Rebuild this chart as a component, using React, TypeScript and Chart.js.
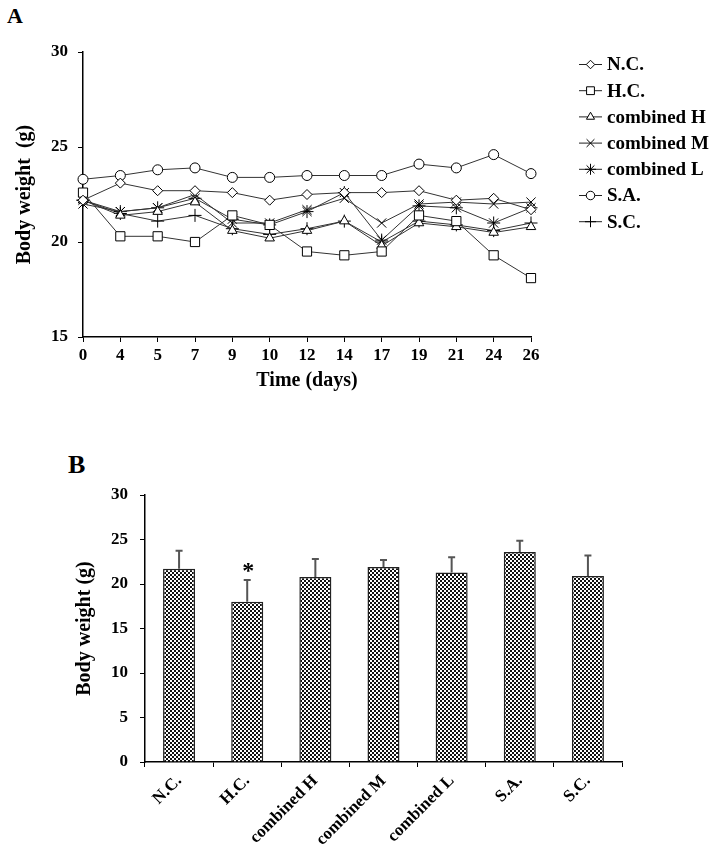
import React, { useEffect, useRef } from "react";
import { Chart, registerables } from "chart.js";
import { drawPoint } from "chart.js/helpers";

Chart.register(...registerables);

// ---------- DATA ----------
const days = ["0", "4", "5", "7", "9", "10", "12", "14", "17", "19", "21", "24", "26"];
const groupNames = ["N.C.", "H.C.", "combined H", "combined M", "combined L", "S.A.", "S.C."];

const ncWeights = [22.2, 23.1, 22.7, 22.7, 22.6, 22.2, 22.5, 22.6, 22.6, 22.7, 22.2, 22.3, 21.7];
const hcWeights = [22.6, 20.3, 20.3, 20.0, 21.4, 20.9, 19.5, 19.3, 19.5, 21.4, 21.1, 19.3, 18.1];
const combHWeights = [22.2, 21.4, 21.6, 22.1, 20.6, 20.2, 20.6, 21.1, 19.8, 21.0, 20.8, 20.5, 20.8];
const combMWeights = [22.0, 21.6, 21.8, 22.5, 21.0, 21.0, 21.7, 22.3, 21.0, 22.0, 22.1, 22.0, 22.1];
const combLWeights = [22.2, 21.6, 21.8, 22.3, 21.2, 20.9, 21.6, 22.6, 20.1, 21.9, 21.8, 21.0, 21.8];
const saWeights = [23.3, 23.5, 23.8, 23.9, 23.4, 23.4, 23.5, 23.5, 23.5, 24.1, 23.9, 24.6, 23.6];
const scWeights = [22.2, 21.5, 21.1, 21.4, 20.7, 20.4, 20.7, 21.1, 20.0, 21.1, 20.9, 20.6, 21.0];

const finalMeans = [21.7, 18.0, 20.8, 21.9, 21.3, 23.6, 20.9];
const finalSD = [2.05, 2.45, 2.0, 0.8, 1.7, 1.25, 2.3];
const significance = ["", "*", "", "", "", "", ""];

const yTicksA = [15, 20, 25, 30];
const yTicksB = [0, 5, 10, 15, 20, 25, 30];

// ---------- STYLE ----------
const FONT = "'Liberation Serif', 'Times New Roman', serif";
const markers = [
  { style: "rectRot", r: 5 },
  { style: "rect", r: 6.5 },
  { style: "triangle", r: 5.5 },
  { style: "crossRot", r: 6.5 },
  { style: "star", r: 6.5 },
  { style: "circle", r: 5 },
  { style: "cross", r: 6.5 },
];

const sideLegend = {
  id: "sideLegend",
  afterDraw(chart: any) {
    const ctx = chart.ctx;
    chart.data.datasets.forEach((ds: any, i: number) => {
      const y = 64.5 + i * 26.2;
      ctx.save();
      ctx.strokeStyle = "#222";
      ctx.lineWidth = 1;
      ctx.beginPath();
      ctx.moveTo(579, y);
      ctx.lineTo(602, y);
      ctx.stroke();
      ctx.fillStyle = "#fff";
      ctx.strokeStyle = "#000";
      drawPoint(ctx, { pointStyle: ds.pointStyle, radius: ds.pointRadius * 0.85, rotation: 0, borderWidth: 1 } as any, 590.5, y);
      ctx.fillStyle = "#000";
      ctx.font = `bold 19px ${FONT}`;
      ctx.textBaseline = "middle";
      ctx.textAlign = "left";
      ctx.fillText(ds.label, 607, y + 1);
      ctx.restore();
    });
  },
};

const errorBars = {
  id: "errorBars",
  afterDatasetsDraw(chart: any) {
    const ctx = chart.ctx;
    const meta = chart.getDatasetMeta(0);
    const yScale = chart.scales.y;
    meta.data.forEach((bar: any, i: number) => {
      const top = yScale.getPixelForValue(finalMeans[i] + finalSD[i]);
      ctx.save();
      ctx.strokeStyle = "#555";
      ctx.lineWidth = 2;
      ctx.beginPath();
      ctx.moveTo(bar.x, bar.y);
      ctx.lineTo(bar.x, top);
      ctx.moveTo(bar.x - 3.5, top);
      ctx.lineTo(bar.x + 3.5, top);
      ctx.stroke();
      if (significance[i]) {
        ctx.fillStyle = "#000";
        ctx.font = `bold 24px ${FONT}`;
        ctx.textAlign = "center";
        ctx.textBaseline = "alphabetic";
        ctx.fillText(significance[i], bar.x + 1, top - 2);
      }
      ctx.restore();
    });
  },
};

function checker(): CanvasPattern | string {
  const c = document.createElement("canvas");
  c.width = 4;
  c.height = 4;
  const g = c.getContext("2d");
  if (!g) return "#888";
  g.fillStyle = "#fff";
  g.fillRect(0, 0, 4, 4);
  g.fillStyle = "#111";
  g.fillRect(0, 0, 2, 2);
  g.fillRect(2, 2, 2, 2);
  return g.createPattern(c, "repeat") || "#888";
}

const axisCommon = {
  border: { color: "#000", width: 1.5 },
  grid: { display: true, drawOnChartArea: false, drawTicks: true, tickLength: 5, color: "#000", lineWidth: 1 },
};

export default function App() {
  const refA = useRef<HTMLCanvasElement>(null);
  const refB = useRef<HTMLCanvasElement>(null);

  useEffect(() => {
    Chart.defaults.font.family = FONT;
    Chart.defaults.font.weight = "bold" as any;
    Chart.defaults.color = "#000";

    const series = [ncWeights, hcWeights, combHWeights, combMWeights, combLWeights, saWeights, scWeights];
    const chartA = new Chart(refA.current as HTMLCanvasElement, {
      type: "line",
      data: {
        labels: days,
        datasets: series.map((d, i) => ({
          label: groupNames[i],
          data: d,
          borderColor: "#333",
          borderWidth: 1,
          pointStyle: markers[i].style as any,
          pointRadius: markers[i].r,
          pointBorderColor: "#000",
          pointBackgroundColor: "#fff",
          pointBorderWidth: 1,
          tension: 0,
        })),
      },
      options: {
        animation: false,
        responsive: false,
        layout: { padding: { left: 0, top: 52, right: 181, bottom: 0 } },
        plugins: { legend: { display: false }, tooltip: { enabled: false } },
        scales: {
          x: {
            ...axisCommon,
            offset: false,
            ticks: { font: { size: 17, weight: "bold" as any }, padding: 3, maxRotation: 0, autoSkip: false },
            title: { display: true, text: "Time (days)", font: { size: 20, weight: "bold" as any }, padding: { top: 0, bottom: 7 } },
            afterFit: (s: any) => { s.height = 63; },
          },
          y: {
            ...axisCommon,
            min: yTicksA[0],
            max: yTicksA[yTicksA.length - 1],
            afterBuildTicks: (s: any) => { s.ticks = yTicksA.map((v) => ({ value: v })); },
            ticks: { font: { size: 17, weight: "bold" as any }, padding: 10 },
            title: { display: true, text: "Body weight  (g)", font: { size: 20, weight: "bold" as any }, padding: { top: 13, bottom: 0 } },
            afterFit: (s: any) => { s.width = 83; },
          },
        },
      },
      plugins: [sideLegend],
    });

    const chartB = new Chart(refB.current as HTMLCanvasElement, {
      type: "bar",
      data: {
        labels: groupNames,
        datasets: [
          {
            label: "Body weight",
            data: finalMeans,
            backgroundColor: checker() as any,
            borderColor: "#222",
            borderWidth: 1.5,
            categoryPercentage: 1,
            barPercentage: 0.47,
          },
        ],
      },
      options: {
        animation: false,
        responsive: false,
        layout: { padding: { left: 0, top: 95, right: 90, bottom: 0 } },
        plugins: { legend: { display: false }, tooltip: { enabled: false } },
        scales: {
          x: {
            ...axisCommon,
            ticks: { font: { size: 17, weight: "bold" as any }, padding: 4, minRotation: 45, maxRotation: 45, autoSkip: false },
            afterFit: (s: any) => { s.height = 92; },
          },
          y: {
            ...axisCommon,
            min: yTicksB[0],
            max: yTicksB[yTicksB.length - 1],
            afterBuildTicks: (s: any) => { s.ticks = yTicksB.map((v) => ({ value: v })); },
            ticks: { font: { size: 17, weight: "bold" as any }, padding: 12 },
            title: { display: true, text: "Body weight (g)", font: { size: 20, weight: "bold" as any }, padding: { top: 73, bottom: 0 } },
            afterFit: (s: any) => { s.width = 145; },
          },
        },
      },
      plugins: [errorBars],
    });

    return () => {
      chartA.destroy();
      chartB.destroy();
    };
  }, []);

  return (
    <div style={{ position: "absolute", left: 0, top: 0, width: 712, height: 854, background: "#fff", overflow: "hidden" }}>
      <div style={{ position: "absolute", left: 7, top: 5, font: `bold 22px/1 ${FONT}`, color: "#000" }}>A</div>
      <div style={{ position: "absolute", left: 68, top: 452, font: `bold 26px/1 ${FONT}`, color: "#000" }}>B</div>
      <canvas ref={refA} width={712} height={400} style={{ position: "absolute", left: 0, top: 0, width: 712, height: 400 }} />
      <canvas ref={refB} width={712} height={454} style={{ position: "absolute", left: 0, top: 400, width: 712, height: 454 }} />
    </div>
  );
}
